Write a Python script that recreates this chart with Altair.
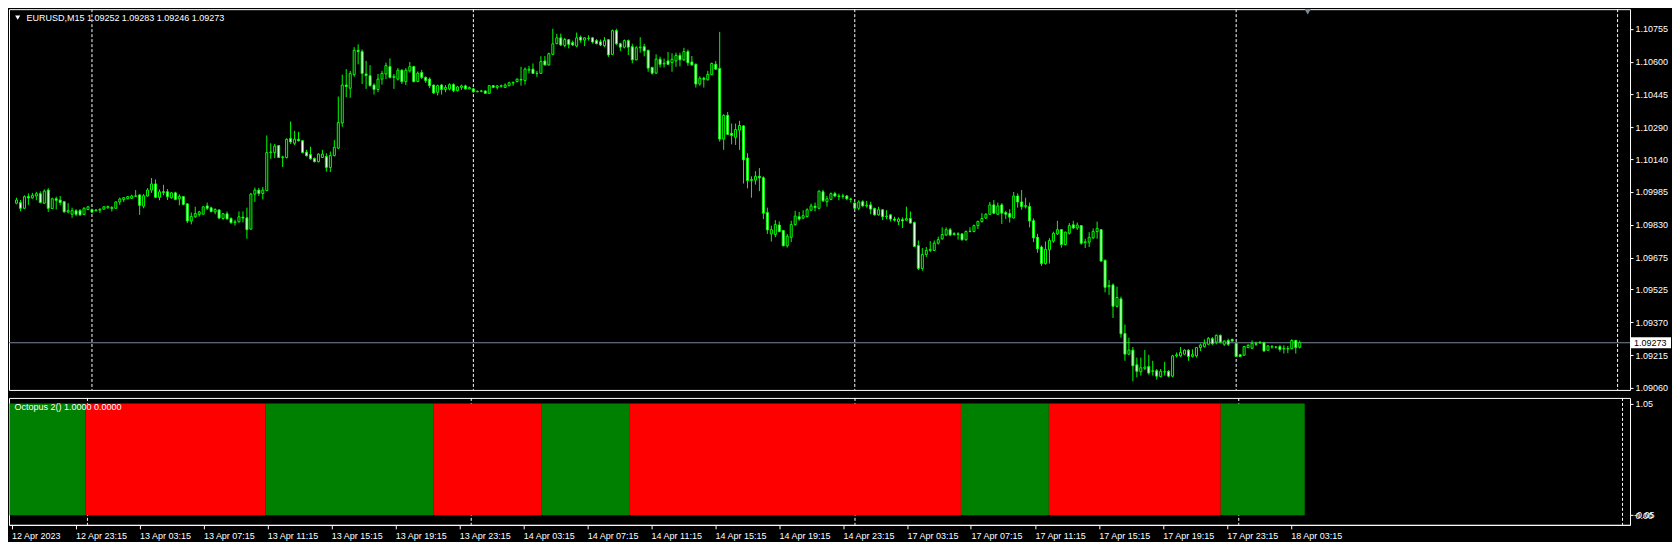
import altair as alt
import pandas as pd

symbol = "EURUSD,M15"
FONT = "Liberation Sans"

open_ = [1.09932,1.09935,1.09908,1.09963,1.09957,1.09966,1.09977,1.09932,1.09994,1.09907,
1.09953,1.09947,1.09939,1.09891,1.09880,1.09896,1.09897,1.09879,1.09902,1.09902,
1.09896,1.09899,1.09904,1.09910,1.09911,1.09908,1.09938,1.09949,1.09953,1.09955,
1.09964,1.09971,1.09918,1.09966,1.09994,1.10023,1.09960,1.09986,1.09986,1.09958,
1.09981,1.09953,1.09963,1.09929,1.09848,1.09868,1.09879,1.09880,1.09919,1.09910,
1.09891,1.09900,1.09860,1.09882,1.09860,1.09840,1.09844,1.09866,1.09863,1.09810,
1.09975,1.09994,1.09978,1.09992,1.10171,1.10171,1.10204,1.10148,1.10148,1.10238,
1.10215,1.10234,1.10227,1.10173,1.10162,1.10143,1.10128,1.10148,1.10153,1.10101,
1.10157,1.10192,1.10311,1.10490,1.10475,1.10539,1.10654,1.10648,1.10542,1.10534,
1.10490,1.10469,1.10518,1.10542,1.10577,1.10526,1.10518,1.10560,1.10506,1.10557,
1.10577,1.10507,1.10549,1.10526,1.10518,1.10490,1.10456,1.10490,1.10469,1.10472,
1.10492,1.10464,1.10479,1.10486,1.10472,1.10472,1.10458,1.10461,1.10462,1.10451,
1.10487,1.10479,1.10484,1.10479,1.10487,1.10500,1.10506,1.10517,1.10511,1.10560,
1.10565,1.10545,1.10545,1.10604,1.10585,1.10635,1.10686,1.10713,1.10677,1.10704,
1.10691,1.10674,1.10716,1.10702,1.10711,1.10713,1.10700,1.10694,1.10676,1.10704,
1.10635,1.10747,1.10685,1.10669,1.10700,1.10671,1.10609,1.10666,1.10671,1.10654,
1.10573,1.10546,1.10612,1.10590,1.10604,1.10596,1.10604,1.10630,1.10609,1.10648,
1.10599,1.10588,1.10495,1.10522,1.10515,1.10539,1.10588,1.10568,1.10235,1.10347,
1.10262,1.10243,1.10277,1.10297,1.10145,1.10039,1.10041,1.10059,1.10052,1.09888,
1.09787,1.09784,1.09829,1.09803,1.09731,1.09771,1.09831,1.09868,1.09862,1.09869,
1.09899,1.09918,1.09908,1.09986,1.09939,1.09950,1.09977,1.09966,1.09964,1.09966,
1.09952,1.09933,1.09908,1.09939,1.09919,1.09924,1.09907,1.09877,1.09901,1.09868,
1.09877,1.09857,1.09845,1.09854,1.09852,1.09860,1.09841,1.09732,1.09624,1.09690,
1.09709,1.09709,1.09743,1.09764,1.09782,1.09807,1.09784,1.09787,1.09787,1.09759,
1.09798,1.09798,1.09826,1.09845,1.09862,1.09880,1.09924,1.09880,1.09924,1.09888,
1.09883,1.09862,1.09966,1.09938,1.09916,1.09916,1.09849,1.09771,1.09725,1.09647,
1.09712,1.09753,1.09787,1.09807,1.09737,1.09790,1.09830,1.09815,1.09826,1.09746,
1.09748,1.09768,1.09798,1.09807,1.09662,1.09538,1.09546,1.09445,1.09480,1.09317,
1.09219,1.09238,1.09169,1.09136,1.09152,1.09161,1.09138,1.09141,1.09113,1.09136,
1.09138,1.09115,1.09211,1.09211,1.09219,1.09238,1.09209,1.09211,1.09250,1.09255,
1.09266,1.09292,1.09276,1.09308,1.09266,1.09284,1.09289,1.09270,1.09216,1.09214,
1.09250,1.09247,1.09269,1.09272,1.09273,1.09238,1.09253,1.09252,1.09255,1.09244,
1.09245,1.09245,1.09284,1.09252]

high = [1.09958,1.09947,1.09969,1.09978,1.09981,1.09986,1.09988,1.09997,1.10003,1.09958,
1.09963,1.09966,1.09943,1.09932,1.09911,1.09904,1.09904,1.09913,1.09919,1.09907,
1.09904,1.09907,1.09918,1.09921,1.09918,1.09941,1.09958,1.09961,1.09966,1.09972,
1.09994,1.09974,1.09975,1.10003,1.10051,1.10044,1.09997,1.10019,1.09999,1.09985,
1.09986,1.09974,1.09966,1.09932,1.09888,1.09915,1.09896,1.09918,1.09935,1.09916,
1.09908,1.09904,1.09885,1.09893,1.09866,1.09854,1.09893,1.09893,1.09911,1.09981,
1.10006,1.10005,1.10009,1.10252,1.10215,1.10212,1.10207,1.10156,1.10238,1.10318,
1.10274,1.10269,1.10230,1.10184,1.10199,1.10148,1.10168,1.10184,1.10168,1.10176,
1.10230,1.10436,1.10539,1.10565,1.10557,1.10669,1.10682,1.10658,1.10604,1.10584,
1.10498,1.10542,1.10557,1.10596,1.10616,1.10542,1.10570,1.10565,1.10570,1.10599,
1.10581,1.10554,1.10562,1.10531,1.10526,1.10492,1.10492,1.10495,1.10490,1.10498,
1.10498,1.10486,1.10492,1.10492,1.10483,1.10475,1.10464,1.10467,1.10465,1.10490,
1.10490,1.10490,1.10492,1.10498,1.10506,1.10506,1.10521,1.10576,1.10573,1.10581,
1.10592,1.10557,1.10626,1.10627,1.10643,1.10756,1.10732,1.10733,1.10713,1.10707,
1.10700,1.10738,1.10724,1.10716,1.10725,1.10716,1.10707,1.10705,1.10716,1.10707,
1.10752,1.10756,1.10690,1.10705,1.10705,1.10685,1.10674,1.10716,1.10685,1.10657,
1.10577,1.10635,1.10624,1.10615,1.10646,1.10640,1.10643,1.10643,1.10666,1.10658,
1.10627,1.10592,1.10531,1.10529,1.10557,1.10596,1.10604,1.10741,1.10352,1.10363,
1.10308,1.10308,1.10321,1.10300,1.10168,1.10059,1.10083,1.10098,1.10059,1.09911,
1.09826,1.09852,1.09846,1.09806,1.09787,1.09849,1.09896,1.09891,1.09899,1.09908,
1.09930,1.09935,1.09992,1.09995,1.09966,1.09983,1.09986,1.09977,1.09977,1.09971,
1.09958,1.09936,1.09946,1.09946,1.09943,1.09939,1.09911,1.09915,1.09904,1.09899,
1.09880,1.09868,1.09865,1.09865,1.09916,1.09893,1.09845,1.09756,1.09720,1.09725,
1.09753,1.09756,1.09774,1.09818,1.09818,1.09815,1.09795,1.09795,1.09790,1.09803,
1.09818,1.09831,1.09849,1.09885,1.09885,1.09938,1.09947,1.09935,1.09932,1.09896,
1.09904,1.09985,1.09978,1.09994,1.09958,1.09935,1.09860,1.09787,1.09732,1.09751,
1.09767,1.09798,1.09849,1.09810,1.09798,1.09838,1.09849,1.09841,1.09829,1.09764,
1.09795,1.09813,1.09845,1.09810,1.09667,1.09569,1.09553,1.09538,1.09491,1.09359,
1.09297,1.09253,1.09203,1.09203,1.09239,1.09216,1.09188,1.09149,1.09149,1.09183,
1.09144,1.09216,1.09227,1.09253,1.09242,1.09242,1.09242,1.09253,1.09269,1.09289,
1.09300,1.09300,1.09312,1.09312,1.09284,1.09292,1.09292,1.09273,1.09219,1.09258,
1.09266,1.09284,1.09278,1.09281,1.09278,1.09262,1.09262,1.09258,1.09262,1.09261,
1.09258,1.09289,1.09287,1.09283]

low = [1.09927,1.09894,1.09905,1.09924,1.09953,1.09946,1.09932,1.09928,1.09891,1.09904,
1.09902,1.09922,1.09888,1.09885,1.09863,1.09871,1.09872,1.09876,1.09899,1.09885,
1.09893,1.09886,1.09902,1.09907,1.09893,1.09905,1.09924,1.09938,1.09950,1.09952,
1.09963,1.09877,1.09908,1.09963,1.09981,1.09957,1.09946,1.09969,1.09947,1.09953,
1.09946,1.09922,1.09922,1.09838,1.09832,1.09863,1.09869,1.09879,1.09900,1.09888,
1.09880,1.09858,1.09854,1.09854,1.09835,1.09826,1.09841,1.09841,1.09764,1.09807,
1.09938,1.09966,1.09950,1.09989,1.10142,1.10145,1.10145,1.10103,1.10143,1.10212,
1.10207,1.10223,1.10168,1.10153,1.10137,1.10125,1.10125,1.10145,1.10081,1.10079,
1.10153,1.10188,1.10293,1.10433,1.10430,1.10529,1.10588,1.10495,1.10472,1.10483,
1.10445,1.10456,1.10492,1.10518,1.10521,1.10472,1.10511,1.10495,1.10490,1.10549,
1.10503,1.10503,1.10518,1.10500,1.10475,1.10448,1.10441,1.10445,1.10456,1.10465,
1.10456,1.10459,1.10467,1.10469,1.10469,1.10455,1.10456,1.10456,1.10448,1.10448,
1.10476,1.10469,1.10478,1.10476,1.10484,1.10487,1.10503,1.10487,1.10492,1.10545,
1.10542,1.10529,1.10542,1.10582,1.10582,1.10632,1.10682,1.10674,1.10669,1.10663,
1.10674,1.10669,1.10690,1.10674,1.10700,1.10686,1.10682,1.10674,1.10669,1.10623,
1.10632,1.10679,1.10651,1.10663,1.10632,1.10593,1.10607,1.10643,1.10626,1.10553,
1.10539,1.10543,1.10573,1.10573,1.10585,1.10553,1.10576,1.10578,1.10604,1.10581,
1.10581,1.10478,1.10487,1.10478,1.10511,1.10537,1.10562,1.10223,1.10184,1.10254,
1.10210,1.10207,1.10184,1.10025,1.10002,1.09958,1.10020,1.09989,1.09857,1.09787,
1.09751,1.09771,1.09795,1.09728,1.09722,1.09748,1.09826,1.09849,1.09857,1.09865,
1.09896,1.09893,1.09904,1.09938,1.09916,1.09946,1.09961,1.09946,1.09953,1.09946,
1.09935,1.09905,1.09899,1.09916,1.09911,1.09880,1.09873,1.09873,1.09852,1.09857,
1.09846,1.09845,1.09829,1.09815,1.09849,1.09837,1.09725,1.09616,1.09613,1.09678,
1.09701,1.09706,1.09737,1.09759,1.09778,1.09776,1.09779,1.09760,1.09756,1.09756,
1.09795,1.09795,1.09810,1.09841,1.09857,1.09876,1.09880,1.09876,1.09834,1.09857,
1.09841,1.09860,1.09911,1.09901,1.09907,1.09818,1.09748,1.09698,1.09636,1.09642,
1.09647,1.09745,1.09782,1.09722,1.09732,1.09784,1.09810,1.09806,1.09736,1.09720,
1.09725,1.09764,1.09764,1.09655,1.09511,1.09499,1.09390,1.09440,1.09297,1.09188,
1.09216,1.09091,1.09110,1.09118,1.09144,1.09122,1.09118,1.09099,1.09110,1.09118,
1.09110,1.09110,1.09203,1.09206,1.09216,1.09188,1.09203,1.09203,1.09234,1.09250,
1.09262,1.09262,1.09266,1.09270,1.09258,1.09258,1.09278,1.09206,1.09205,1.09211,
1.09247,1.09245,1.09258,1.09269,1.09231,1.09234,1.09245,1.09245,1.09231,1.09222,
1.09224,1.09242,1.09222,1.09246]

close = [1.09947,1.09908,1.09963,1.09957,1.09969,1.09977,1.09935,1.09989,1.09908,1.09953,
1.09946,1.09935,1.09891,1.09897,1.09897,1.09880,1.09877,1.09908,1.09915,1.09890,
1.09900,1.09904,1.09915,1.09916,1.09908,1.09938,1.09952,1.09958,1.09963,1.09966,
1.09967,1.09922,1.09967,1.09994,1.10023,1.09960,1.09986,1.09983,1.09963,1.09981,
1.09950,1.09964,1.09927,1.09848,1.09869,1.09883,1.09891,1.09915,1.09908,1.09893,
1.09902,1.09862,1.09882,1.09858,1.09840,1.09844,1.09868,1.09862,1.09807,1.09975,
1.09994,1.09978,1.09994,1.10171,1.10174,1.10202,1.10148,1.10151,1.10234,1.10221,
1.10234,1.10227,1.10171,1.10156,1.10142,1.10128,1.10164,1.10164,1.10101,1.10157,
1.10196,1.10313,1.10490,1.10483,1.10545,1.10654,1.10648,1.10545,1.10535,1.10487,
1.10469,1.10518,1.10545,1.10582,1.10526,1.10531,1.10560,1.10506,1.10560,1.10577,
1.10506,1.10546,1.10526,1.10511,1.10487,1.10453,1.10487,1.10469,1.10479,1.10492,
1.10464,1.10481,1.10486,1.10472,1.10478,1.10458,1.10461,1.10462,1.10451,1.10487,
1.10479,1.10486,1.10487,1.10490,1.10501,1.10503,1.10518,1.10514,1.10565,1.10565,
1.10545,1.10545,1.10601,1.10585,1.10638,1.10685,1.10713,1.10679,1.10705,1.10682,
1.10679,1.10713,1.10702,1.10713,1.10710,1.10693,1.10686,1.10679,1.10700,1.10632,
1.10747,1.10685,1.10669,1.10700,1.10669,1.10609,1.10666,1.10669,1.10651,1.10570,
1.10546,1.10612,1.10588,1.10593,1.10588,1.10612,1.10630,1.10609,1.10648,1.10595,
1.10585,1.10495,1.10522,1.10517,1.10540,1.10592,1.10565,1.10235,1.10347,1.10257,
1.10252,1.10280,1.10299,1.10137,1.10039,1.10044,1.10059,1.10052,1.09885,1.09806,
1.09807,1.09831,1.09798,1.09731,1.09776,1.09831,1.09871,1.09857,1.09873,1.09901,
1.09919,1.09911,1.09989,1.09943,1.09953,1.09977,1.09966,1.09964,1.09967,1.09953,
1.09950,1.09908,1.09938,1.09919,1.09922,1.09904,1.09877,1.09901,1.09868,1.09871,
1.09857,1.09852,1.09857,1.09848,1.09859,1.09838,1.09728,1.09624,1.09690,1.09709,
1.09714,1.09743,1.09760,1.09784,1.09807,1.09782,1.09789,1.09785,1.09759,1.09798,
1.09799,1.09826,1.09846,1.09860,1.09880,1.09924,1.09885,1.09919,1.09885,1.09880,
1.09866,1.09966,1.09938,1.09916,1.09921,1.09848,1.09768,1.09717,1.09647,1.09714,
1.09756,1.09790,1.09807,1.09737,1.09795,1.09826,1.09815,1.09829,1.09743,1.09750,
1.09771,1.09799,1.09813,1.09659,1.09535,1.09543,1.09445,1.09487,1.09315,1.09219,
1.09238,1.09164,1.09138,1.09155,1.09158,1.09130,1.09141,1.09115,1.09138,1.09135,
1.09115,1.09211,1.09216,1.09227,1.09238,1.09208,1.09217,1.09250,1.09262,1.09269,
1.09294,1.09269,1.09308,1.09276,1.09281,1.09266,1.09281,1.09208,1.09208,1.09255,
1.09261,1.09270,1.09266,1.09275,1.09234,1.09258,1.09255,1.09253,1.09241,1.09247,
1.09244,1.09284,1.09250,1.09273]

time_label_bars = [0, 16, 32, 48, 64, 80, 96, 112, 128, 144, 160, 176, 192, 208, 224,
                   240, 256, 272, 288, 304, 320]
time_labels = ["12 Apr 2023", "12 Apr 23:15", "13 Apr 03:15", "13 Apr 07:15", "13 Apr 11:15",
               "13 Apr 15:15", "13 Apr 19:15", "13 Apr 23:15", "14 Apr 03:15", "14 Apr 07:15",
               "14 Apr 11:15", "14 Apr 15:15", "14 Apr 19:15", "14 Apr 23:15", "17 Apr 03:15",
               "17 Apr 07:15", "17 Apr 11:15", "17 Apr 15:15", "17 Apr 19:15", "17 Apr 23:15",
               "18 Apr 03:15"]
price_ticks = [1.10755, 1.10600, 1.10445, 1.10290, 1.10140, 1.09985, 1.09830, 1.09675,
               1.09525, 1.09370, 1.09215, 1.09060]
day_separator_bars = [19, 115, 211, 307, 403]

seg_start = [0, 19, 64, 106, 133, 155, 238, 260, 303]
seg_end = [19, 64, 106, 133, 155, 238, 260, 303, 324]
seg_color = ["#008000", "#ff0000", "#008000", "#ff0000", "#008000", "#ff0000",
             "#008000", "#ff0000", "#008000"]
ind_name = "Octopus 2()"
ind_buffers = [1.0, 0.0]
ind_level = 1.0
ind_tick_vals = [1.0, 0.0]
ind_tick_texts = ["1.05", "0.00"]
ind_min_text = "-0.05"

# ---------------------------------------------------------------- layout
W = 1622
H1 = 381
H2 = 127
XDOM = [-0.625, -0.625 + W / 4.0]
YDOM = [1.090502, 1.108484]
IDOM = [-0.085, 1.05]

n = len(close)
df = pd.DataFrame({"bar": list(range(n)), "open": open_, "high": high,
                   "low": low, "close": close})
df["dir"] = ["bull" if c >= o else "bear" for o, c in zip(open_, close)]

xs = alt.Scale(domain=XDOM, nice=False, zero=False)
ys = alt.Scale(domain=YDOM, nice=False, zero=False)

yax = alt.Axis(orient="right", values=price_ticks, format=".5f", labelFont=FONT,
               labelFontSize=9, labelColor="#ffffff", tickColor="#ffffff", tickSize=3,
               domain=False, grid=False, title=None, labelPadding=2, labelFlush=False,
               labelOverlap=False, labelBound=False)


def X(f):
    return alt.X(f, type="quantitative", scale=xs, axis=None)


def Y(f):
    return alt.Y(f, type="quantitative", scale=ys, axis=yax)


sep_df = pd.DataFrame({"bar": day_separator_bars})
sep_main = alt.Chart(sep_df).mark_rule(color="#ffffff", strokeDash=[3, 2], strokeWidth=1).encode(x=X("bar"))

bid_df = pd.DataFrame({"p": [close[-1]], "t": [f"{close[-1]:.5f}"]})
bid_line = alt.Chart(bid_df).mark_rule(color="#778899", strokeWidth=1).encode(y=Y("p"))

wicks = alt.Chart(df).mark_rule(color="#00ff00", strokeWidth=1).encode(
    x=X("bar"), y=Y("low"), y2="high")
bodies = alt.Chart(df).mark_bar(size=2, stroke="#00ff00", strokeWidth=1).encode(
    x=X("bar"), y=Y("open"), y2="close",
    fill=alt.Fill("dir:N", scale=alt.Scale(domain=["bull", "bear"], range=["#000000", "#ffffff"]),
                  legend=None))

header_txt = f"{symbol}  {open_[-1]:.5f} {high[-1]:.5f} {low[-1]:.5f} {close[-1]:.5f}"
header = alt.Chart(pd.DataFrame({"t": [header_txt]})).mark_text(
    align="left", baseline="middle", font=FONT, fontSize=9, color="#ffffff").encode(
    text="t:N", x=alt.value(17.5), y=alt.value(8.5))
tri = alt.Chart(pd.DataFrame({"t": [1]})).mark_point(
    shape="triangle-down", filled=True, color="#ffffff", size=26, opacity=1).encode(
    x=alt.value(8.7), y=alt.value(8.5))
shift_mark = alt.Chart(pd.DataFrame({"bar": [n + 1]})).mark_point(
    shape="triangle-down", filled=True, color="#7f8c99", size=40, opacity=1).encode(
    x=X("bar"), y=alt.value(2.5))

bid_box = alt.Chart(bid_df).mark_tick(orient="horizontal", size=40, thickness=11,
                                      color="#ffffff", opacity=1).encode(
    y=Y("p"), x=alt.value(W + 21))
bid_text = alt.Chart(bid_df).mark_text(align="left", baseline="middle", font=FONT,
                                       fontSize=9, color="#000000").encode(
    y=Y("p"), x=alt.value(W + 4), text="t:N")

main = alt.layer(sep_main, bid_line, wicks, bodies, header, tri, shift_mark,
                 bid_box, bid_text).properties(width=W, height=H1)

# ---------------------------------------------------------------- indicator
label_expr = "{" + ",".join(f"'{b}':'{t}'" for b, t in zip(time_label_bars, time_labels)) + "}[''+datum.value]"
ind_expr = "{" + ",".join(f"'{v}':'{t}'" for v, t in zip(ind_tick_vals, ind_tick_texts)) + "}[''+datum.value]"
ind_expr = "datum.value >= 0.5 ? '" + ind_tick_texts[0] + "' : '" + ind_tick_texts[1] + "'"

xax = alt.Axis(values=time_label_bars, labelExpr=label_expr, labelAlign="left", labelFont=FONT,
               labelFontSize=9, labelColor="#ffffff", tickColor="#ffffff", tickSize=4,
               domain=True, domainColor="#ffffff", grid=False, title=None, labelPadding=3,
               labelFlush=False, labelOverlap=False, labelBound=False)
iys = alt.Scale(domain=IDOM, nice=False, zero=False)
iax = alt.Axis(orient="right", values=ind_tick_vals, labelExpr=ind_expr, labelFont=FONT,
               labelFontSize=9, labelColor="#ffffff", tickColor="#ffffff", tickSize=3,
               domain=False, grid=False, title=None, labelPadding=2, labelFlush=False,
               labelOverlap=False, labelBound=False)

seg_df = pd.DataFrame({"start": seg_start, "end": seg_end, "color": seg_color,
                       "level": [ind_level] * len(seg_start)})
sep_ind = alt.Chart(sep_df).mark_rule(color="#ffffff", strokeDash=[3, 2], strokeWidth=1).encode(
    x=alt.X("bar:Q", scale=xs, axis=xax))
segs = alt.Chart(seg_df).transform_calculate(
    x0="datum.start - 0.5", x1="datum.end - 0.5", base="0").mark_rect().encode(
    x=alt.X("x0:Q", scale=xs, axis=xax), x2="x1:Q",
    y=alt.Y("level:Q", scale=iys, axis=iax), y2="base:Q",
    color=alt.Color("color:N", scale=None))
ind_txt = f"{ind_name} {ind_buffers[0]:.4f} {ind_buffers[1]:.4f}"
ind_label = alt.Chart(pd.DataFrame({"t": [ind_txt]})).mark_text(
    align="left", baseline="middle", font=FONT, fontSize=9, color="#ffffff").encode(
    text="t:N", x=alt.value(5.5), y=alt.value(9))
min_label = alt.Chart(pd.DataFrame({"t": [ind_min_text], "v": [0.0]})).mark_text(
    align="left", baseline="middle", font=FONT, fontSize=9, color="#ffffff").encode(
    text="t:N", x=alt.value(W + 4), y=alt.Y("v:Q", scale=iys, axis=iax))

ind = alt.layer(sep_ind, segs, ind_label, min_label).properties(width=W, height=H2)

chart = alt.vconcat(main, ind, spacing=3).properties(
    padding=0, background="#000000").configure_view(
    stroke="#ffffff", strokeWidth=1, fill="#000000")

chart.save("out.html", embed_options={"renderer": "svg", "actions": False})
